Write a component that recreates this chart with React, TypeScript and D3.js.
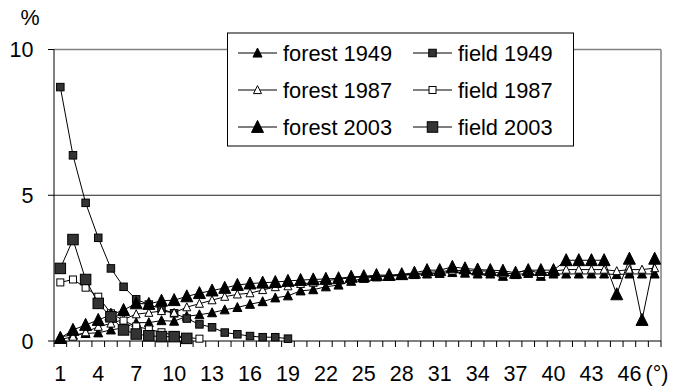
import React from "react";
import * as d3 from "d3";

const categories = [
  1, 2, 3, 4, 5, 6, 7, 8, 9, 10, 11, 12, 13, 14, 15, 16, 17, 18, 19, 20, 21, 22, 23, 24,
  25, 26, 27, 28, 29, 30, 31, 32, 33, 34, 35, 36, 37, 38, 39, 40, 41, 42, 43, 44, 45, 46, 47, 48,
];
const xTickLabels = [1, 4, 7, 10, 13, 16, 19, 22, 25, 28, 31, 34, 37, 40, 43, 46];
const yTicks = [0, 5, 10];

const forest1949 = [
  0.15, 0.2, 0.26, 0.28, 0.38, 0.45, 0.63, 0.63, 0.7, 0.68, 0.85, 0.9, 0.97, 1.07, 1.15, 1.26,
  1.35, 1.48, 1.55, 1.72, 1.76, 1.86, 1.92, 2.05, 2.15, 2.2, 2.22, 2.25, 2.28, 2.3, 2.32, 2.35,
  2.33, 2.3, 2.3, 2.22, 2.28, 2.32, 2.22, 2.3, 2.3, 2.3, 2.3, 2.3, 2.28, 2.3, 2.3, 2.3,
];
const forest1987 = [
  0.05, 0.15, 0.3, 0.49, 0.6, 0.74, 0.92, 0.97, 1.03, 0.97, 1.16, 1.28, 1.4, 1.52, 1.6, 1.64,
  1.75, 1.85, 1.88, 1.96, 2.0, 2.07, 2.12, 2.17, 2.2, 2.22, 2.24, 2.26, 2.3, 2.35, 2.38, 2.42,
  2.42, 2.4, 2.4, 2.3, 2.33, 2.45, 2.3, 2.4, 2.45, 2.45, 2.45, 2.45, 2.4, 2.45, 2.45, 2.5,
];
const forest2003 = [
  0.1, 0.38, 0.55, 0.72, 0.9, 1.06, 1.29, 1.27, 1.38, 1.4, 1.53, 1.64, 1.73, 1.82, 1.92, 1.97,
  2.0, 2.02, 2.06, 2.09, 2.11, 2.13, 2.15, 2.2, 2.22, 2.26, 2.26, 2.29, 2.34, 2.43, 2.43, 2.54,
  2.49, 2.45, 2.43, 2.41, 2.34, 2.43, 2.43, 2.43, 2.77, 2.77, 2.77, 2.77, 1.6, 2.82, 0.72, 2.82,
];
const field1949 = [
  8.71, 6.37, 4.74, 3.54, 2.49, 1.86, 1.43, 1.25, 1.1, 0.95, 0.77, 0.57, 0.47, 0.29, 0.23, 0.17,
  0.13, 0.13, 0.08,
];
const field1987 = [2.01, 2.11, 1.83, 1.52, 0.95, 0.7, 0.5, 0.4, 0.3, 0.2, 0.12, 0.08];
const field2003 = [2.49, 3.48, 2.11, 1.29, 0.83, 0.38, 0.24, 0.18, 0.15, 0.15, 0.09];

type Marker = { shape: "tri" | "sq"; size: number; fill: string };
const seriesList: { name: string; values: number[]; marker: Marker }[] = [
  { name: "forest 1949", values: forest1949, marker: { shape: "tri", size: 9, fill: "#000" } },
  { name: "field 1949", values: field1949, marker: { shape: "sq", size: 7.5, fill: "#333" } },
  { name: "forest 1987", values: forest1987, marker: { shape: "tri", size: 8, fill: "#fff" } },
  { name: "field 1987", values: field1987, marker: { shape: "sq", size: 7, fill: "#fff" } },
  { name: "forest 2003", values: forest2003, marker: { shape: "tri", size: 12, fill: "#000" } },
  { name: "field 2003", values: field2003, marker: { shape: "sq", size: 10.5, fill: "#333" } },
];

const W = 673;
const H = 387;
const left = 54;
const right = 661;
const top = 49.5;
const bottom = 341;
const FONT = "Liberation Sans, Arial, sans-serif";
const FS = 21.5;

function MarkerShape({ m, cx, cy }: { m: Marker; cx: number; cy: number }) {
  const s = m.size;
  if (m.shape === "tri") {
    const pts = [
      [cx, cy - s * 0.55],
      [cx + s / 2, cy + s * 0.45],
      [cx - s / 2, cy + s * 0.45],
    ]
      .map((p) => p.join(","))
      .join(" ");
    return <polygon points={pts} fill={m.fill} stroke="#000" strokeWidth={1} />;
  }
  return (
    <rect x={cx - s / 2} y={cy - s / 2} width={s} height={s} fill={m.fill} stroke="#000" strokeWidth={1} />
  );
}

export default function App() {
  const x = d3.scaleBand<number>().domain(categories).range([left, right]).padding(0);
  const y = d3.scaleLinear().domain([0, 10]).range([bottom, top]);
  const cx = (c: number) => (x(c) as number) + x.bandwidth() / 2;
  const line = d3
    .line<number>()
    .x((_, i) => cx(categories[i]))
    .y((v) => y(v));

  const rowY = [53, 90, 127];
  const colLineX = [238, 413];
  const colTextX = [283, 458];

  const boundaries = categories.map((c) => x(c) as number).concat([right]);

  return (
    <svg
      width={W}
      height={H}
      style={{ position: "absolute", left: 0, top: 0, display: "block", background: "#fff" }}
      fontFamily={FONT}
    >
      <rect x={0} y={0} width={W} height={H} fill="#fff" />
      {yTicks
        .filter((t) => t > 0)
        .map((t) => (
          <line key={t} x1={left} x2={right} y1={y(t)} y2={y(t)} stroke="#222" strokeWidth={1} />
        ))}
      <line x1={left} x2={right} y1={top} y2={top} stroke="#808080" strokeWidth={1.5} />
      <line x1={right} x2={right} y1={top} y2={bottom} stroke="#808080" strokeWidth={1.5} />
      <line x1={left} x2={left} y1={top} y2={bottom} stroke="#000" strokeWidth={1} />
      {yTicks.map((t) => (
        <g key={t}>
          <line x1={left - 6} x2={left} y1={y(t)} y2={y(t)} stroke="#000" />
          <text x={33.5} y={y(t)} dy="0.36em" textAnchor="end" fontSize={FS} fill="#000">
            {t}
          </text>
        </g>
      ))}
      <text x={30} y={17} dy="0.36em" textAnchor="middle" fontSize={FS}>
        %
      </text>
      <line x1={left} x2={right} y1={bottom} y2={bottom} stroke="#000" strokeWidth={1} />
      {boundaries.map((b, i) => (
        <line key={i} x1={b} x2={b} y1={bottom} y2={bottom + 6} stroke="#000" />
      ))}
      {xTickLabels.map((c) => (
        <text key={c} x={cx(c)} y={381} textAnchor="middle" fontSize={FS}>
          {c}
        </text>
      ))}
      <text x={657} y={381} textAnchor="middle" fontSize={FS}>
        (°)
      </text>
      {seriesList.map((s) => (
        <g key={s.name}>
          <path d={line(s.values) || ""} fill="none" stroke="#000" strokeWidth={1} />
          {s.values.map((v, i) => (
            <MarkerShape key={i} m={s.marker} cx={cx(categories[i])} cy={y(v)} />
          ))}
        </g>
      ))}
      <rect x={227.5} y={33} width={346} height={113} fill="#fff" stroke="#000" strokeWidth={1} />
      {seriesList.map((s, i) => {
        const col = i % 2;
        const row = Math.floor(i / 2);
        const ly = rowY[row];
        const lx = colLineX[col];
        return (
          <g key={s.name}>
            <line x1={lx} x2={lx + 39} y1={ly} y2={ly} stroke="#000" strokeWidth={1} />
            <MarkerShape m={s.marker} cx={lx + 19.5} cy={ly} />
            <text x={colTextX[col]} y={ly} dy="0.36em" fontSize={21.8}>
              {s.name}
            </text>
          </g>
        );
      })}
    </svg>
  );
}
